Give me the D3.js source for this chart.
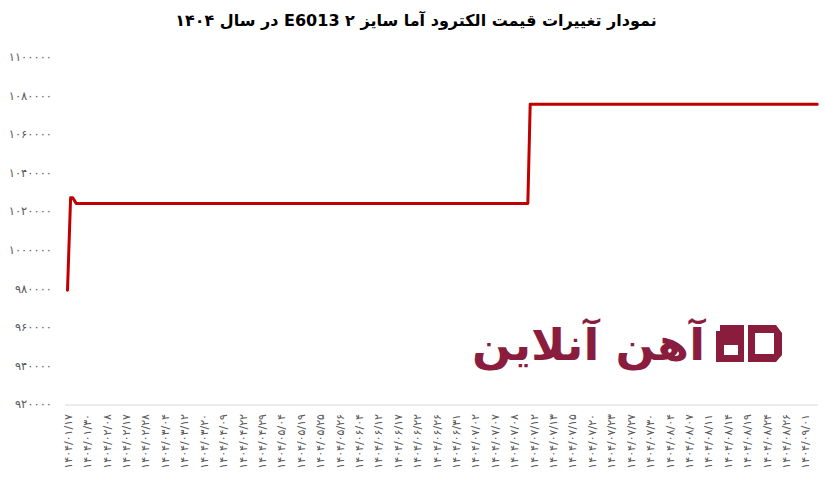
<!DOCTYPE html>
<html><head><meta charset="utf-8">
<script src="https://cdn.jsdelivr.net/npm/d3@7"></script>
<style>body{margin:0;background:#fff}svg{display:block}</style>
</head><body>
<script>
const titleText = "نمودار تغییرات قیمت الکترود آما سایز ۲ E6013 در سال ۱۴۰۴";
const dateLabels = ["1404/01/17","1404/01/30","1404/02/08","1404/02/17","1404/02/28","1404/03/04","1404/03/12","1404/03/20","1404/04/09","1404/04/22",
"1404/04/29","1404/05/04","1404/05/19","1404/05/25","1404/05/26","1404/06/04","1404/06/12","1404/06/17","1404/06/22","1404/06/26",
"1404/06/31","1404/07/02","1404/07/07","1404/07/08","1404/07/12","1404/07/13","1404/07/15","1404/07/20","1404/07/23","1404/07/27",
"1404/07/30","1404/08/04","1404/08/07","1404/08/11","1404/08/14","1404/08/19","1404/08/24","1404/08/26","1404/09/01"];
// position of each price point measured in label-slot units along the category axis
const pointPos = [0, 0.16, 0.27, 0.45, 23.72, 23.84, 38.63];
const priceValues = [979000, 1027000, 1027000, 1024000, 1024000, 1075500, 1075500];
const yTicks = [920000, 940000, 960000, 980000, 1000000, 1020000, 1040000, 1060000, 1080000, 1100000];
const logoText = "آهن آنلاین";

const W = 826, H = 485;
const fa = s => String(s).replace(/[0-9]/g, d => "۰۱۲۳۴۵۶۷۸۹"[d]);
const svg = d3.select("body").append("svg").attr("width", W).attr("height", H);
const font = "DejaVu Sans, Noto Sans, sans-serif";

const x = d3.scaleLinear().domain([0, dateLabels.length - 1]).range([67.5, 805]);
const y = d3.scaleLinear().domain([920000, 1100000]).range([404, 57]);

// title
svg.append("text").attr("x", 416).attr("y", 26).attr("text-anchor", "middle")
  .attr("direction", "rtl").attr("font-family", font).attr("font-weight", "bold")
  .attr("font-size", 16).attr("fill", "#000").text(titleText);

// y axis labels
const yAxis = d3.axisLeft(y).tickValues(yTicks).tickSize(0).tickPadding(0).tickFormat(d => fa(d));
const gy = svg.append("g").attr("transform", "translate(52,0)").call(yAxis);
gy.select(".domain").remove();
gy.selectAll("text").attr("font-family", font).attr("font-size", 11.5).attr("fill", "#595959");

// x axis
const xAxis = d3.axisBottom(x).tickValues(d3.range(dateLabels.length)).tickSize(0).tickFormat(i => fa(dateLabels[i]));
const gx = svg.append("g").attr("transform", "translate(0,405)").call(xAxis);
gx.select(".domain").remove();
gx.selectAll("text").attr("font-family", font).attr("font-size", 11).attr("fill", "#595959")
  .attr("transform", "rotate(-90)").attr("text-anchor", "end").attr("dy", "0.35em").attr("x", -9).attr("y", 0);
svg.append("line").attr("x1", 65).attr("x2", 818).attr("y1", 405).attr("y2", 405)
  .attr("stroke", "#d9d9d9").attr("stroke-width", 1);

// logo (watermark)
const logo = svg.append("g");
logo.append("text").attr("x", 705).attr("y", 360).attr("text-anchor", "start").attr("direction", "rtl")
  .attr("font-family", font).attr("font-weight", "bold").attr("font-size", 44)
  .attr("fill", "#8a1c3e").attr("textLength", 233).attr("lengthAdjust", "spacingAndGlyphs").text(logoText);
logo.append("path").attr("fill", "#8a1c3e").attr("fill-rule", "evenodd")
  .attr("d", "M716,331 L744,331 L744,362 L716,362 Z M724,345 L738,345 L738,355 L724,355 Z");
logo.append("path").attr("fill", "#8a1c3e").attr("d", "M720,325 L744,325 L744,331 L720,331 Z");
logo.append("path").attr("fill", "#8a1c3e").attr("fill-rule", "evenodd")
  .attr("d", "M748,325 L776,325 L782,333 L782,355 L776,362 L748,362 Z M755,333 L774,333 L774,354 L755,354 Z");

// price line
const line = d3.line().x((d, i) => x(pointPos[i])).y(d => y(d));
svg.append("path").datum(priceValues).attr("d", line).attr("fill", "none")
  .attr("stroke", "#c00000").attr("stroke-width", 3).attr("stroke-linejoin", "round").attr("stroke-linecap", "round");
</script>
</body></html>
